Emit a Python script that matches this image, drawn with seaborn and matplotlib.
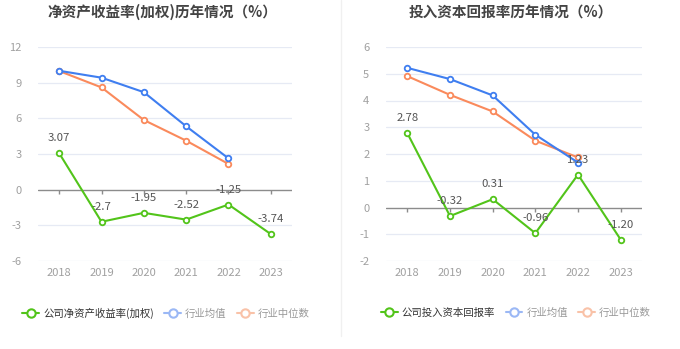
import matplotlib
matplotlib.use("Agg")
import matplotlib.pyplot as plt
from matplotlib.lines import Line2D
import seaborn as sns
import pandas as pd

sns.set_style("white")
plt.rcParams['font.family'] = ['Noto Sans CJK SC', 'DejaVu Sans']

years = ["2018", "2019", "2020", "2021", "2022", "2023"]

# 净资产收益率(加权)
roe_company = [3.07, -2.7, -1.95, -2.52, -1.25, -3.74]
roe_mean = [10.0, 9.42, 8.2, 5.33, 2.63]
roe_median = [9.98, 8.6, 5.86, 4.12, 2.16]
roe_ticks = [-6, -3, 0, 3, 6, 9, 12]

# 投入资本回报率
roic_company = [2.78, -0.32, 0.31, -0.96, 1.23, -1.20]
roic_mean = [5.22, 4.80, 4.19, 2.72, 1.68]
roic_median = [4.91, 4.21, 3.59, 2.50, 1.87]
roic_ticks = [-2, -1, 0, 1, 2, 3, 4, 5, 6]

GREEN = "#52c41a"
BLUE = "#3f7ef0"
ORANGE = "#fa8a5c"

fig = plt.figure(figsize=(6.8, 3.49), dpi=100)


def draw_panel(rect, title, title_x, company_name, company, mean, median, ticks, fmt, legend_x):
    ax = fig.add_axes(rect)
    df = pd.DataFrame({
        "year": years * 3,
        "value": company + mean + [None] * (len(years) - len(mean))
                 + median + [None] * (len(years) - len(median)),
        "series": [company_name] * len(years) + ["行业均值"] * len(years) + ["行业中位数"] * len(years),
    })
    df["x"] = list(range(len(years))) * 3
    palette = {company_name: GREEN, "行业均值": BLUE, "行业中位数": ORANGE}
    order = ["行业中位数", "行业均值", company_name]
    for name in order:
        sub = df[df["series"] == name].dropna()
        sns.lineplot(data=sub, x="x", y="value", ax=ax, color=palette[name], lw=1.5,
                     marker="o", markersize=4, markerfacecolor="white",
                     markeredgecolor=palette[name], markeredgewidth=1.3, zorder=3)
    ymin, ymax = ticks[0], ticks[-1]
    ax.set_ylim(ymin, ymax)
    ax.set_xlim(-0.5, len(years) - 0.5)
    for t in ticks:
        if t != 0:
            ax.axhline(t, color="#e6eaf4", lw=0.9, zorder=1)
    ax.axhline(0, color="#8c8c8c", lw=1.0, zorder=2)
    tick_len = (ymax - ymin) * 4 / 214
    ax.vlines(range(len(years)), -tick_len, 0, color="#8c8c8c", lw=1.0, zorder=2)
    for s in ax.spines.values():
        s.set_visible(False)
    ax.set_xticks(range(len(years)))
    ax.set_xticklabels(years)
    ax.set_yticks(ticks)
    ax.set_yticklabels([str(t) for t in ticks])
    ax.tick_params(axis="both", length=0, colors="#a0a0a0", labelsize=8)
    ax.tick_params(axis="x", pad=5)
    ax.tick_params(axis="y", pad=12)
    ax.set_xlabel("")
    ax.set_ylabel("")
    if ax.get_legend():
        ax.get_legend().remove()
    for i, v in enumerate(company):
        ax.annotate(fmt(v), (i, v), xytext=(0, 7), textcoords="offset points",
                    ha="center", va="bottom", fontsize=8.2, color="#555555", zorder=5)
    fig.text(title_x / 680, 1 - 12 / 349, title, ha="center", va="center",
             fontsize=10.5, fontweight="bold", color="#444444")
    handles = [
        Line2D([], [], color=GREEN, lw=1.5, marker="o", markersize=6,
               markerfacecolor="white", markeredgewidth=1.5),
        Line2D([], [], color="#9bb8f5", lw=1.5, marker="o", markersize=6,
               markerfacecolor="white", markeredgewidth=1.5),
        Line2D([], [], color="#f9c2a8", lw=1.5, marker="o", markersize=6,
               markerfacecolor="white", markeredgewidth=1.5),
    ]
    leg = fig.legend(handles, [company_name, "行业均值", "行业中位数"], loc="center",
                     bbox_to_anchor=(legend_x, 1 - 313 / 349), ncol=3, frameon=False,
                     fontsize=7.5, handlelength=1.6, handletextpad=0.4, columnspacing=1.0)
    for txt, c in zip(leg.get_texts(), ["#333333", "#999999", "#999999"]):
        txt.set_color(c)
    return ax


draw_panel([38 / 680, 1 - 261 / 349, 254 / 680, 214 / 349],
           "净资产收益率(加权)历年情况（%）", 162, "公司净资产收益率(加权)",
           roe_company, roe_mean, roe_median, roe_ticks,
           lambda v: f"{v:g}", 166 / 680)

draw_panel([386 / 680, 1 - 261 / 349, 256 / 680, 214 / 349],
           "投入资本回报率历年情况（%）", 511, "公司投入资本回报率",
           roic_company, roic_mean, roic_median, roic_ticks,
           lambda v: f"{v:.2f}", 516 / 680)

fig.add_artist(Line2D([341 / 680, 341 / 680], [1 - 336 / 349, 1.0],
                      color="#f0f0f0", lw=1.0))

fig.savefig("out.png", dpi=100, facecolor="white")
